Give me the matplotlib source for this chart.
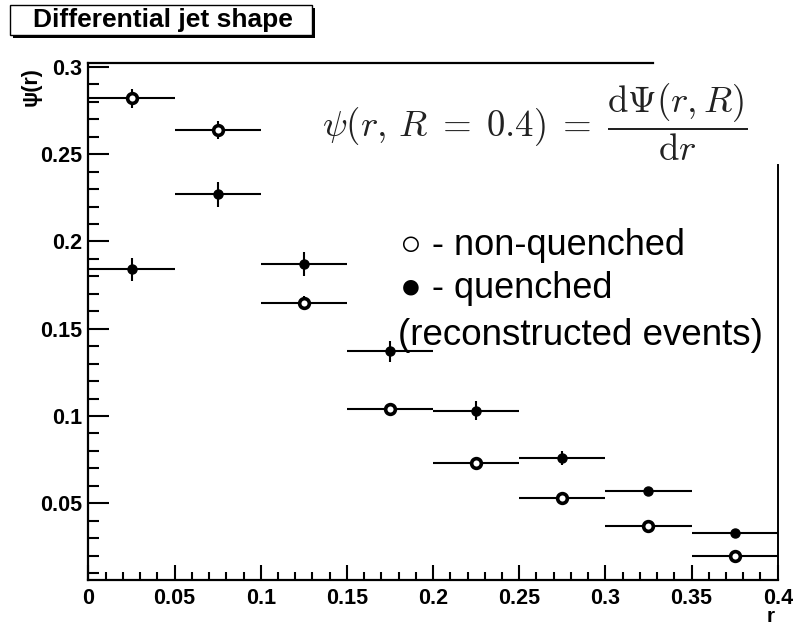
import matplotlib
matplotlib.use("Agg")
import matplotlib.pyplot as plt
from matplotlib.patches import Rectangle

plt.rcParams['font.family'] = ['Liberation Sans', 'DejaVu Sans']
plt.rcParams['mathtext.fontset'] = 'cm'

# bin centres and values
r_centres = [0.025, 0.075, 0.125, 0.175, 0.225, 0.275, 0.325, 0.375]
bin_half = [0.025] * 8
psi_nonquenched = [0.282, 0.264, 0.165, 0.104, 0.073, 0.053, 0.037, 0.020]
err_nonquenched = [0.0055, 0.005, 0.004, 0.003, 0.002, 0.002, 0.002, 0.0015]
psi_quenched = [0.184, 0.227, 0.187, 0.137, 0.103, 0.076, 0.057, 0.033]
err_quenched = [0.0065, 0.007, 0.007, 0.006, 0.0055, 0.004, 0.002, 0.0015]

x_ticks = [0, 0.05, 0.1, 0.15, 0.2, 0.25, 0.3, 0.35, 0.4]
x_tick_labels = ['0', '0.05', '0.1', '0.15', '0.2', '0.25', '0.3', '0.35', '0.4']
y_ticks = [0.05, 0.1, 0.15, 0.2, 0.25, 0.3]
y_tick_labels = ['0.05', '0.1', '0.15', '0.2', '0.25', '0.3']

W, H = 803, 628
fig = plt.figure(figsize=(W / 100, H / 100), dpi=100)
ax = fig.add_axes([88.5 / W, 1 - 580 / H, (777.7 - 88.5) / W, (580 - 63) / H])

ymin, ymax = 0.006, 0.3023
ax.set_xlim(0, 0.4)
ax.set_ylim(ymin, ymax)

# quenched (filled) and non-quenched (open)
ax.errorbar(r_centres, psi_quenched, xerr=bin_half, yerr=err_quenched,
            fmt='o', color='black', ms=6.5, elinewidth=1.5, capsize=0, zorder=3)
ax.errorbar(r_centres, psi_nonquenched, xerr=bin_half, yerr=err_nonquenched,
            fmt='o', color='black', mfc='white', mec='black', ms=7, mew=2.6,
            elinewidth=1.5, capsize=0, zorder=3)

# ROOT-like frame: top and right partly hidden by the pasted formula
for s in ['top', 'right']:
    ax.spines[s].set_visible(False)
for s in ['left', 'bottom']:
    ax.spines[s].set_linewidth(1.6)
ax.plot([0, 0.3275], [ymax, ymax], color='black', lw=1.6, clip_on=False)
ax.plot([0.4, 0.4], [ymin, 0.244], color='black', lw=1.4, clip_on=False)

ax.set_xticks(x_ticks)
ax.set_xticklabels(x_tick_labels)
ax.set_yticks(y_ticks)
ax.set_yticklabels(y_tick_labels)
ax.set_xticks([i / 100 for i in range(1, 40)], minor=True)
ax.set_yticks([i / 100 for i in range(1, 30)], minor=True)
ax.tick_params(axis='both', which='both', direction='in', width=1.5,
               top=False, right=False)
ax.tick_params(axis='y', which='major', length=15, pad=4.5)
ax.tick_params(axis='y', which='minor', length=8)
ax.tick_params(axis='x', which='major', length=11, pad=5.5)
ax.tick_params(axis='x', which='minor', length=6)
for lab in ax.get_xticklabels() + ax.get_yticklabels():
    lab.set_fontweight('bold')
    lab.set_fontsize(15.5)

# axis titles
fig.text(31 / W, 1 - 87 / H, 'ψ(r)', rotation=90, ha='center', va='center',
         fontsize=15.5, fontweight='bold')
fig.text(771 / W, 1 - 617 / H, 'r', ha='center', va='center',
         fontsize=15, fontweight='bold')

# title box with shadow
fig.patches.append(Rectangle((13 / W, 1 - 38 / H), 302 / W, 30 / H,
                             transform=fig.transFigure, facecolor='black',
                             edgecolor='none', zorder=1))
fig.patches.append(Rectangle((10 / W, 1 - 35 / H), 302 / W, 30 / H,
                             transform=fig.transFigure, facecolor='white',
                             edgecolor='black', lw=1, zorder=2))
fig.text(163 / W, 1 - 20 / H, 'Differential jet shape', ha='center', va='center',
         fontsize=19, fontweight='bold', zorder=3)

# formula
fig.text(535 / W, 1 - 122 / H,
         r'$\psi(r,\, R \;=\; 0.4) \;=\; \dfrac{\mathrm{d}\Psi(r,R)}{\mathrm{d}r}$',
         ha='center', va='center', fontsize=26.5, color='#222222')

# hand-written legend
fig.text(400 / W, 1 - 255 / H, '○ - non-quenched', ha='left', va='baseline',
         fontsize=26)
fig.text(400 / W, 1 - 298 / H, '● - quenched', ha='left', va='baseline',
         fontsize=26)
fig.text(398 / W, 1 - 345 / H, '(reconstructed events)', ha='left',
         va='baseline', fontsize=26.5)

fig.savefig('out.png', dpi=100)
